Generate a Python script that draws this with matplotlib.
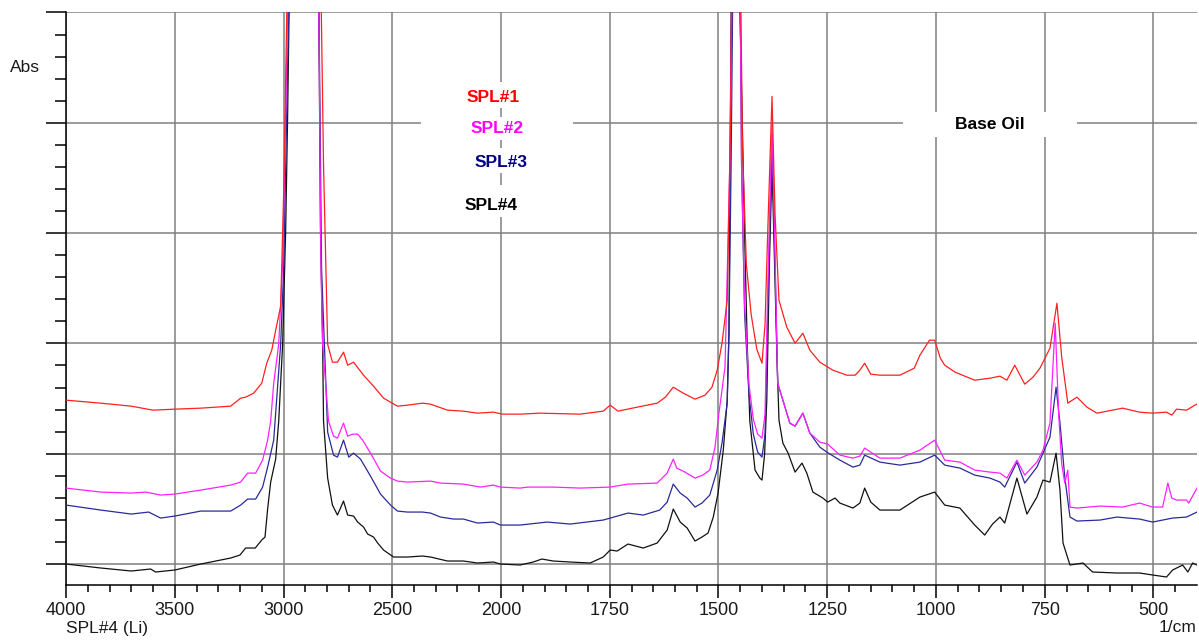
import numpy as np
import matplotlib
matplotlib.use('Agg')
import matplotlib.pyplot as plt
from matplotlib.ticker import FixedLocator, FuncFormatter, MultipleLocator
from matplotlib.patches import Rectangle

plt.rcParams['font.family'] = ['Liberation Sans', 'DejaVu Sans']

# wavenumbers (1/cm) and absorbance (arb. units, one grid division = 110.4)
# main C-H peaks go off scale, so their tops are just put above the frame
spl4_wn = [4000, 3840, 3700, 3611, 3588, 3500, 3380, 3243, 3200, 3174, 3130, 3100, 3085, 3073, 3059,
           3036, 3022, 3004, 2990, 2981, 2970, 2950, 2925, 2890, 2855, 2840, 2830, 2820, 2816, 2797,
           2775, 2752, 2724, 2705, 2678, 2659, 2632, 2613, 2586, 2567, 2540, 2494, 2430, 2361, 2324,
           2246, 2173, 2108, 2035, 2003, 1956, 1926, 1906, 1880, 1841, 1795, 1765, 1749, 1733, 1708,
           1673, 1641, 1618, 1604, 1588, 1572, 1554, 1538, 1524, 1512, 1501, 1489, 1480, 1476, 1471,
           1460, 1451, 1440, 1434, 1428, 1416, 1405, 1400, 1394, 1389, 1383, 1377, 1371, 1366, 1361,
           1352, 1340, 1324, 1308, 1297, 1283, 1260, 1249, 1232, 1221, 1191, 1175, 1164, 1150, 1129,
           1083, 1037, 1003, 980, 945, 911, 888, 870, 853, 842, 814, 791, 768, 754, 738,
           724, 715, 708, 692, 662, 640, 584, 532, 502, 470, 456, 433, 421, 410, 400]
spl4_abs = [0, -4, -7, -5, -8, -6, 0, 6, 9, 16, 16, 24, 27, 55, 82,
            105, 143, 220, 334, 449, 620, 900, 1000, 850, 1000, 620, 334, 220, 143, 86,
            59, 49, 63, 49, 48, 42, 37, 30, 27, 21, 14, 7, 7, 8, 7,
            3, 3, 1, 2, 0, -1, 2, 5, 3, 2, 1, 7, 14, 13, 20,
            16, 21, 34, 55, 42, 36, 23, 27, 31, 47, 71, 114, 164, 231, 560,
            900, 560, 330, 220, 143, 94, 86, 84, 110, 164, 300, 400, 300, 214, 144,
            121, 111, 92, 101, 91, 72, 66, 62, 66, 61, 56, 61, 76, 62, 54,
            54, 67, 72, 59, 56, 39, 29, 40, 47, 41, 86, 50, 67, 84, 82,
            111, 74, 21, -1, 1, -8, -9, -9, -11, -13, -6, -1, -8, 1, -1]

spl3_wn = [4000, 3840, 3700, 3620, 3565, 3500, 3380, 3243, 3197, 3165, 3128, 3096, 3073, 3045, 3013,
           2999, 2981, 2970, 2950, 2925, 2890, 2855, 2840, 2825, 2797, 2770, 2752, 2724, 2700, 2678,
           2646, 2600, 2554, 2508, 2476, 2430, 2361, 2324, 2278, 2218, 2173, 2108, 2035, 2003, 1956,
           1894, 1841, 1765, 1708, 1673, 1635, 1618, 1604, 1588, 1572, 1554, 1538, 1520, 1503, 1492,
           1480, 1476, 1471, 1460, 1451, 1447, 1440, 1430, 1420, 1410, 1400, 1393, 1387, 1377, 1370,
           1364, 1352, 1336, 1324, 1306, 1290, 1267, 1251, 1221, 1191, 1175, 1164, 1129, 1083, 1037,
           1003, 980, 945, 911, 876, 853, 842, 814, 796, 768, 754, 738, 724, 715, 704,
           692, 676, 623, 584, 532, 502, 456, 424, 400]
spl3_abs = [59, 54, 50, 52, 46, 48, 53, 53, 59, 65, 65, 77, 97, 124, 220,
            296, 500, 620, 900, 1000, 850, 1000, 620, 296, 132, 109, 107, 124, 107, 111,
            105, 88, 70, 59, 53, 52, 52, 51, 47, 45, 45, 41, 42, 39, 39,
            42, 40, 44, 51, 49, 54, 62, 80, 71, 66, 57, 61, 69, 94, 121,
            161, 231, 400, 900, 620, 400, 250, 170, 130, 112, 107, 130, 250, 430, 300,
            181, 164, 141, 138, 151, 131, 117, 112, 104, 97, 99, 109, 102, 99, 102,
            109, 99, 96, 89, 86, 82, 77, 102, 81, 97, 111, 127, 177, 141, 87,
            47, 43, 44, 47, 45, 42, 46, 47, 52]

spl2_wn = [4000, 3840, 3700, 3633, 3565, 3500, 3380, 3243, 3197, 3165, 3128, 3096, 3073, 3059, 3045,
           3022, 3004, 2990, 2975, 2950, 2925, 2890, 2855, 2840, 2828, 2820, 2793, 2770, 2752, 2724,
           2705, 2682, 2659, 2636, 2600, 2554, 2508, 2476, 2430, 2324, 2278, 2173, 2094, 2035, 2003,
           1956, 1938, 1880, 1818, 1749, 1708, 1641, 1618, 1604, 1596, 1577, 1554, 1536, 1520, 1508,
           1499, 1485, 1474, 1468, 1460, 1451, 1447, 1440, 1430, 1420, 1410, 1400, 1393, 1387, 1377,
           1370, 1364, 1352, 1336, 1324, 1306, 1290, 1267, 1249, 1221, 1191, 1175, 1164, 1129, 1083,
           1037, 1003, 980, 945, 911, 876, 853, 837, 814, 796, 768, 754, 738, 726, 718,
           711, 704, 697, 692, 676, 623, 571, 532, 502, 479, 467, 458, 447, 424, 419, 400]
spl2_abs = [76, 72, 71, 72, 69, 70, 74, 79, 82, 91, 91, 104, 124, 143, 181,
            220, 300, 450, 620, 900, 1000, 850, 1000, 620, 300, 220, 143, 128, 126, 141,
            128, 130, 130, 124, 111, 93, 86, 83, 82, 83, 81, 80, 77, 79, 77,
            76, 77, 77, 76, 77, 80, 81, 91, 105, 96, 92, 86, 89, 94, 117,
            151, 197, 400, 620, 900, 620, 400, 260, 180, 145, 130, 126, 150, 270, 440,
            310, 181, 164, 141, 138, 151, 131, 122, 120, 109, 106, 108, 116, 106, 106,
            114, 124, 104, 102, 94, 92, 91, 86, 104, 89, 102, 114, 141, 241, 150,
            100, 81, 94, 57, 56, 58, 57, 61, 57, 57, 81, 66, 64, 64, 61, 76]

spl1_wn = [4000, 3840, 3700, 3600, 3500, 3380, 3243, 3197, 3174, 3137, 3100, 3077, 3054, 3036, 3013,
           2999, 2985, 2970, 2950, 2925, 2890, 2855, 2836, 2816, 2797, 2775, 2752, 2724, 2705, 2678,
           2632, 2586, 2540, 2476, 2430, 2361, 2324, 2246, 2173, 2108, 2035, 1996, 1956, 1910, 1818,
           1765, 1749, 1731, 1687, 1641, 1622, 1604, 1581, 1554, 1531, 1515, 1503, 1492, 1480, 1472,
           1468, 1460, 1451, 1445, 1436, 1425, 1412, 1400, 1393, 1387, 1377, 1370, 1361, 1343, 1324,
           1306, 1290, 1267, 1237, 1205, 1186, 1175, 1164, 1150, 1129, 1083, 1050, 1037, 1015, 1003,
           990, 980, 956, 911, 876, 853, 837, 819, 796, 777, 761, 738, 722, 711, 697,
           676, 653, 630, 571, 532, 502, 470, 458, 447, 424, 405, 400]
spl1_abs = [164, 161, 158, 154, 155, 156, 158, 166, 167, 171, 181, 201, 214, 234, 258,
            373, 550, 700, 900, 1000, 850, 1000, 700, 400, 220, 202, 202, 212, 199, 202,
            189, 178, 166, 158, 159, 161, 160, 154, 153, 151, 152, 150, 150, 151, 150,
            153, 159, 153, 157, 161, 167, 177, 171, 165, 169, 177, 194, 221, 264, 450,
            650, 900, 650, 420, 300, 250, 215, 201, 240, 330, 468, 350, 264, 237, 221,
            231, 214, 202, 194, 189, 189, 194, 201, 190, 189, 189, 196, 209, 224, 224,
            206, 199, 192, 184, 186, 188, 184, 199, 180, 187, 196, 216, 261, 207, 161,
            167, 157, 151, 156, 152, 151, 152, 149, 155, 154, 159, 160]

major_x = [4000, 3500, 3000, 2500, 2000, 1750, 1500, 1250, 1000, 750, 500]


def fwd(x):
    # spectrometer style axis: scale doubles below 2000 1/cm
    x = np.asarray(x, dtype=float)
    return np.where(x >= 2000, x / 500.0, 4 + (x - 2000) / 250.0)


def inv(t):
    t = np.asarray(t, dtype=float)
    return np.where(t >= 4, t * 500.0, 2000 + (t - 4) * 250.0)


fig = plt.figure(figsize=(11.99, 6.4), dpi=100)
ax = fig.add_axes([66 / 1199, 55 / 640, 1131 / 1199, 573 / 640])
ax.set_xscale('function', functions=(fwd, inv))
ax.set_xlim(4000, 400)
ax.set_ylim(-21, 552.5)

ax.plot(spl4_wn, spl4_abs, color='#111111', lw=0.9, zorder=3)
ax.plot(spl3_wn, spl3_abs, color='#2a2a9a', lw=0.9, zorder=4)
ax.plot(spl2_wn, spl2_abs, color='#ff20ff', lw=0.9, zorder=5)
ax.plot(spl1_wn, spl1_abs, color='#ff2020', lw=0.9, zorder=6)

minor_x = [v for v in list(range(4000, 2000, -100)) + list(range(2000, 400, -50)) if v not in major_x]
ax.xaxis.set_major_locator(FixedLocator(major_x))
ax.xaxis.set_minor_locator(FixedLocator(minor_x))
ax.xaxis.set_major_formatter(FuncFormatter(lambda v, p: f"{v:.0f}"))
ax.yaxis.set_major_locator(FixedLocator([i * 110.4 for i in range(6)]))
ax.yaxis.set_minor_locator(MultipleLocator(22.08))
ax.set_yticklabels([])

ax.grid(True, which='major', color='#808080', lw=1.1, zorder=1)
ax.set_axisbelow(True)
for s in ['top', 'right']:
    ax.spines[s].set_visible(False)
for s in ['left', 'bottom']:
    ax.spines[s].set_linewidth(1.1)
    ax.spines[s].set_color('black')
ax.tick_params(axis='x', which='major', direction='out', length=9.5, width=1.1, labelsize=13,
               pad=3, labelcolor='#1a1a1a')
ax.tick_params(axis='x', which='minor', direction='out', length=5, width=1.1)
ax.tick_params(axis='y', which='major', direction='out', length=14.5, width=1.1)
ax.tick_params(axis='y', which='minor', direction='out', length=8, width=1.1)


def label(text, x, y, color, box):
    # white patch hides the grid behind the label, like the original
    ax.add_patch(Rectangle(box[:2], box[2], box[3], transform=ax.transAxes,
                           facecolor='white', edgecolor='none', zorder=2))
    ax.text(x, y, text, transform=ax.transAxes, color=color, fontsize=12.5,
            fontweight='bold', ha='center', va='center', zorder=7)


label('SPL#1', 0.3775, 0.850, '#ff0000', (0.314, 0.8325, 0.134, 0.0454))
label('SPL#2', 0.381, 0.796, '#ff00ff', (0.314, 0.7766, 0.134, 0.040))
label('SPL#3', 0.3846, 0.738, '#000080', (0.314, 0.719, 0.134, 0.0436))
label('SPL#4', 0.3758, 0.663, '#000000', (0.314, 0.642, 0.134, 0.0558))
label('Base Oil', 0.817, 0.803, '#000000', (0.740, 0.7818, 0.1538, 0.0436))

fig.text(10 / 1199, 1 - 67 / 640, 'Abs', fontsize=12.5, va='center', ha='left', color='#1a1a1a')
fig.text(66 / 1199, 1 - 629 / 640, 'SPL#4 (Li)', fontsize=12.5, va='center', ha='left', color='#1a1a1a')
fig.text(1197 / 1199, 1 - 628 / 640, '1/cm', fontsize=12.5, va='center', ha='right', color='#1a1a1a')

fig.savefig('out.png', dpi=100)
